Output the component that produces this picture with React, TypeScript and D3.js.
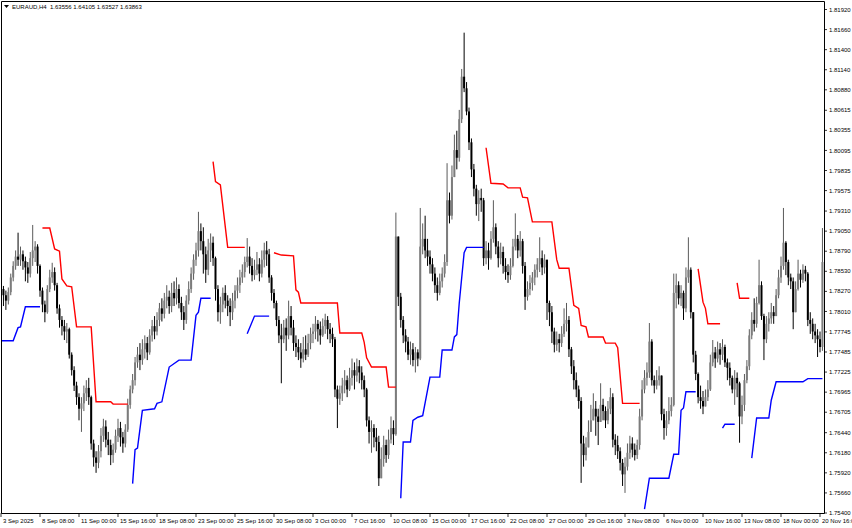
import React, { useEffect, useRef } from 'react';
import * as d3 from 'd3';

// header line of the chart window
const symbolInfo = 'EURAUD,H4  1.63556 1.64105 1.63527 1.63863';

// H4 candles, 3 Sep 16:00 .. 20 Nov 20:00 (open of a bar = previous close)
const firstOpen = 1.7835;

const closes = [
  1.7830, 1.7822, 1.7815, 1.7826, 1.7845, 1.7860, 1.7872, 1.7868, 1.7875, 1.7866,
  1.7858, 1.7850, 1.7870, 1.7880, 1.7885, 1.7860, 1.7828, 1.7810, 1.7800, 1.7830,
  1.7845, 1.7852, 1.7835, 1.7805, 1.7790, 1.7782, 1.7775, 1.7778, 1.7745, 1.7725,
  1.7705, 1.7690, 1.7675, 1.7682, 1.7695, 1.7702, 1.7690, 1.7630, 1.7612, 1.7605,
  1.7620, 1.7640, 1.7652, 1.7635, 1.7628, 1.7615, 1.7622, 1.7640, 1.7650, 1.7638,
  1.7630, 1.7648, 1.7680, 1.7700, 1.7712, 1.7735, 1.7745, 1.7738, 1.7752, 1.7760,
  1.7748, 1.7770, 1.7782, 1.7775, 1.7790, 1.7805, 1.7798, 1.7815, 1.7820, 1.7808,
  1.7825, 1.7818, 1.7830, 1.7812, 1.7800, 1.7790, 1.7815, 1.7830, 1.7850, 1.7868,
  1.7880, 1.7905, 1.7892, 1.7875, 1.7855, 1.7880, 1.7890, 1.7870, 1.7830, 1.7800,
  1.7810, 1.7825, 1.7815, 1.7808, 1.7800, 1.7815, 1.7828, 1.7835, 1.7845, 1.7852,
  1.7865, 1.7872, 1.7860, 1.7848, 1.7855, 1.7862, 1.7850, 1.7868, 1.7880, 1.7875,
  1.7845, 1.7825, 1.7812, 1.7790, 1.7770, 1.7765, 1.7780, 1.7770, 1.7795, 1.7780,
  1.7760, 1.7755, 1.7748, 1.7740, 1.7752, 1.7745, 1.7760, 1.7772, 1.7775, 1.7785,
  1.7778, 1.7770, 1.7782, 1.7790, 1.7778, 1.7772, 1.7765, 1.7700, 1.7688, 1.7695,
  1.7705, 1.7712, 1.7700, 1.7715, 1.7725, 1.7718, 1.7730, 1.7722, 1.7712, 1.7700,
  1.7660, 1.7645, 1.7650, 1.7638, 1.7632, 1.7585, 1.7610, 1.7628, 1.7615, 1.7635,
  1.7650, 1.7642, 1.7898, 1.7820, 1.7790, 1.7770, 1.7762, 1.7745, 1.7752, 1.7738,
  1.7748, 1.7740, 1.7885, 1.7895, 1.7880, 1.7872, 1.7862, 1.7850, 1.7835, 1.7825,
  1.7840, 1.7850, 1.7865, 1.7945, 1.7925, 1.7975, 1.8010, 1.8000, 1.8050, 1.8105,
  1.8090, 1.8060, 1.8020, 1.7985, 1.7960, 1.7940, 1.7948, 1.7945, 1.7870, 1.7880,
  1.7870, 1.7895, 1.7910, 1.7885, 1.7870, 1.7878, 1.7860, 1.7852, 1.7848, 1.7860,
  1.7885, 1.7895, 1.7880, 1.7892, 1.7860, 1.7820, 1.7830, 1.7838, 1.7845, 1.7855,
  1.7862, 1.7870, 1.7858, 1.7868, 1.7812, 1.7800, 1.7775, 1.7758, 1.7765, 1.7760,
  1.7772, 1.7785, 1.7790, 1.7752, 1.7730, 1.7712, 1.7700, 1.7685, 1.7630, 1.7615,
  1.7625, 1.7645, 1.7660, 1.7675, 1.7665, 1.7658, 1.7680, 1.7672, 1.7660, 1.7675,
  1.7690, 1.7635, 1.7628, 1.7620, 1.7605, 1.7590, 1.7600, 1.7618, 1.7630, 1.7622,
  1.7615, 1.7628, 1.7665, 1.7700, 1.7715, 1.7722, 1.7762, 1.7712, 1.7705, 1.7712,
  1.7718, 1.7668, 1.7650, 1.7660, 1.7672, 1.7680, 1.7825, 1.7835, 1.7818, 1.7825,
  1.7805, 1.7845, 1.7855, 1.7800, 1.7745, 1.7720, 1.7690, 1.7685, 1.7678, 1.7690,
  1.7700, 1.7735, 1.7748, 1.7740, 1.7752, 1.7745, 1.7755, 1.7735, 1.7728, 1.7715,
  1.7700, 1.7715, 1.7708, 1.7665, 1.7680, 1.7712, 1.7730, 1.7770, 1.7790, 1.7785,
  1.7812, 1.7835, 1.7795, 1.7765, 1.7785, 1.7792, 1.7800, 1.7795, 1.7822, 1.7845,
  1.7860, 1.7890, 1.7865, 1.7845, 1.7840, 1.7800, 1.7830, 1.7850, 1.7842, 1.7855,
  1.7850, 1.7790, 1.7785, 1.7775, 1.7770, 1.7765, 1.7755, 1.7865,
];

const highs = [
  1.7838, 1.7834, 1.7828, 1.7832, 1.7850, 1.7866, 1.7880, 1.7903, 1.7885, 1.7880,
  1.7872, 1.7865, 1.7878, 1.7913, 1.7892, 1.7888, 1.7862, 1.7832, 1.7815, 1.7835,
  1.7855, 1.7864, 1.7858, 1.7838, 1.7810, 1.7795, 1.7790, 1.7786, 1.7780, 1.7748,
  1.7730, 1.7710, 1.7695, 1.7690, 1.7705, 1.7712, 1.7715, 1.7692, 1.7635, 1.7620,
  1.7628, 1.7650, 1.7662, 1.7660, 1.7645, 1.7635, 1.7630, 1.7648, 1.7662, 1.7658,
  1.7645, 1.7655, 1.7688, 1.7705, 1.7720, 1.7742, 1.7755, 1.7760, 1.7765, 1.7770,
  1.7768, 1.7778, 1.7790, 1.7795, 1.7800, 1.7812, 1.7818, 1.7825, 1.7835, 1.7828,
  1.7838, 1.7840, 1.7845, 1.7836, 1.7820, 1.7808, 1.7822, 1.7840, 1.7858, 1.7875,
  1.7890, 1.7930, 1.7915, 1.7910, 1.7885, 1.7895, 1.7902, 1.7898, 1.7872, 1.7835,
  1.7820, 1.7832, 1.7835, 1.7822, 1.7818, 1.7825, 1.7835, 1.7845, 1.7855, 1.7862,
  1.7872, 1.7896, 1.7885, 1.7870, 1.7868, 1.7878, 1.7870, 1.7880, 1.7890, 1.7892,
  1.7882, 1.7848, 1.7830, 1.7815, 1.7795, 1.7785, 1.7790, 1.7792, 1.7815, 1.7808,
  1.7790, 1.7770, 1.7765, 1.7760, 1.7768, 1.7770, 1.7772, 1.7780, 1.7785, 1.7795,
  1.7790, 1.7788, 1.7792, 1.7798, 1.7795, 1.7786, 1.7780, 1.7768, 1.7705, 1.7705,
  1.7715, 1.7725, 1.7718, 1.7728, 1.7740, 1.7735, 1.7740, 1.7738, 1.7730, 1.7718,
  1.7702, 1.7665, 1.7660, 1.7655, 1.7650, 1.7640, 1.7625, 1.7640, 1.7635, 1.7648,
  1.7665, 1.7660, 1.7929, 1.7860, 1.7825, 1.7795, 1.7778, 1.7768, 1.7762, 1.7760,
  1.7755, 1.7752, 1.7935, 1.7915, 1.7925, 1.7895, 1.7880, 1.7870, 1.7858, 1.7845,
  1.7850, 1.7858, 1.7875, 1.7993, 1.7955, 1.7990, 1.8030, 1.8035, 1.8062, 1.8115,
  1.8162, 1.8098, 1.8065, 1.8025, 1.7992, 1.7965, 1.7958, 1.7960, 1.7948, 1.7892,
  1.7890, 1.7905, 1.7945, 1.7915, 1.7892, 1.7890, 1.7885, 1.7870, 1.7862, 1.7870,
  1.7895, 1.7928, 1.7900, 1.7905, 1.7895, 1.7865, 1.7840, 1.7848, 1.7852, 1.7862,
  1.7870, 1.7897, 1.7880, 1.7875, 1.7822, 1.7815, 1.7808, 1.7780, 1.7775, 1.7772,
  1.7782, 1.7805, 1.7812, 1.7795, 1.7755, 1.7738, 1.7722, 1.7705, 1.7690, 1.7640,
  1.7638, 1.7660, 1.7680, 1.7695, 1.7685, 1.7675, 1.7708, 1.7688, 1.7678, 1.7685,
  1.7702, 1.7695, 1.7642, 1.7640, 1.7625, 1.7610, 1.7612, 1.7630, 1.7640, 1.7638,
  1.7630, 1.7635, 1.7675, 1.7712, 1.7725, 1.7735, 1.7786, 1.7765, 1.7718, 1.7725,
  1.7730, 1.7718, 1.7675, 1.7672, 1.7690, 1.7690, 1.7850, 1.7850, 1.7840, 1.7835,
  1.7828, 1.7858, 1.7897, 1.7858, 1.7790, 1.7750, 1.7722, 1.7705, 1.7698, 1.7700,
  1.7712, 1.7745, 1.7764, 1.7755, 1.7762, 1.7760, 1.7765, 1.7758, 1.7740, 1.7735,
  1.7718, 1.7725, 1.7722, 1.7710, 1.7692, 1.7720, 1.7738, 1.7778, 1.7800, 1.7818,
  1.7820, 1.7868, 1.7840, 1.7798, 1.7795, 1.7800, 1.7812, 1.7808, 1.7830, 1.7855,
  1.7872, 1.7935, 1.7892, 1.7868, 1.7850, 1.7845, 1.7840, 1.7868, 1.7855, 1.7862,
  1.7860, 1.7852, 1.7800, 1.7792, 1.7785, 1.7778, 1.7775, 1.7909,
];

const lows = [
  1.7812, 1.7808, 1.7803, 1.7810, 1.7822, 1.7840, 1.7855, 1.7860, 1.7860, 1.7855,
  1.7840, 1.7838, 1.7845, 1.7860, 1.7865, 1.7850, 1.7820, 1.7800, 1.7787, 1.7798,
  1.7826, 1.7838, 1.7828, 1.7798, 1.7780, 1.7770, 1.7764, 1.7760, 1.7740, 1.7718,
  1.7698, 1.7680, 1.7660, 1.7645, 1.7672, 1.7685, 1.7680, 1.7622, 1.7600, 1.7592,
  1.7598, 1.7612, 1.7632, 1.7625, 1.7615, 1.7602, 1.7605, 1.7618, 1.7632, 1.7626,
  1.7618, 1.7625, 1.7645, 1.7675, 1.7695, 1.7705, 1.7728, 1.7725, 1.7732, 1.7740,
  1.7738, 1.7745, 1.7762, 1.7765, 1.7770, 1.7782, 1.7788, 1.7792, 1.7805, 1.7798,
  1.7800, 1.7808, 1.7810, 1.7805, 1.7790, 1.7777, 1.7785, 1.7810, 1.7825, 1.7842,
  1.7860, 1.7872, 1.7880, 1.7850, 1.7838, 1.7848, 1.7865, 1.7860, 1.7815, 1.7788,
  1.7785, 1.7800, 1.7805, 1.7795, 1.7782, 1.7790, 1.7805, 1.7818, 1.7825, 1.7838,
  1.7845, 1.7858, 1.7850, 1.7840, 1.7842, 1.7848, 1.7840, 1.7845, 1.7858, 1.7860,
  1.7838, 1.7815, 1.7805, 1.7782, 1.7760, 1.7708, 1.7760, 1.7750, 1.7765, 1.7770,
  1.7750, 1.7742, 1.7738, 1.7728, 1.7735, 1.7738, 1.7742, 1.7752, 1.7760, 1.7765,
  1.7762, 1.7758, 1.7768, 1.7772, 1.7765, 1.7760, 1.7755, 1.7690, 1.7650, 1.7680,
  1.7685, 1.7695, 1.7690, 1.7698, 1.7705, 1.7700, 1.7710, 1.7708, 1.7700, 1.7690,
  1.7652, 1.7630, 1.7618, 1.7625, 1.7620, 1.7575, 1.7585, 1.7600, 1.7605, 1.7610,
  1.7630, 1.7628, 1.7640, 1.7808, 1.7780, 1.7760, 1.7748, 1.7738, 1.7732, 1.7730,
  1.7722, 1.7730, 1.7738, 1.7875, 1.7870, 1.7860, 1.7850, 1.7840, 1.7825, 1.7815,
  1.7822, 1.7832, 1.7845, 1.7860, 1.7915, 1.7920, 1.7975, 1.7985, 1.7995, 1.8045,
  1.8085, 1.8055, 1.8010, 1.7975, 1.7950, 1.7925, 1.7918, 1.7930, 1.7860, 1.7862,
  1.7855, 1.7868, 1.7890, 1.7875, 1.7858, 1.7862, 1.7850, 1.7842, 1.7838, 1.7842,
  1.7858, 1.7880, 1.7870, 1.7872, 1.7850, 1.7803, 1.7815, 1.7822, 1.7828, 1.7835,
  1.7845, 1.7852, 1.7848, 1.7850, 1.7790, 1.7782, 1.7760, 1.7748, 1.7750, 1.7748,
  1.7755, 1.7768, 1.7775, 1.7742, 1.7720, 1.7700, 1.7690, 1.7675, 1.7579, 1.7600,
  1.7608, 1.7630, 1.7645, 1.7660, 1.7640, 1.7628, 1.7670, 1.7660, 1.7650, 1.7655,
  1.7668, 1.7625, 1.7615, 1.7610, 1.7595, 1.7575, 1.7566, 1.7595, 1.7610, 1.7612,
  1.7608, 1.7610, 1.7622, 1.7660, 1.7695, 1.7705, 1.7715, 1.7705, 1.7695, 1.7700,
  1.7705, 1.7660, 1.7635, 1.7640, 1.7655, 1.7665, 1.7678, 1.7805, 1.7810, 1.7808,
  1.7790, 1.7800, 1.7838, 1.7792, 1.7735, 1.7712, 1.7682, 1.7675, 1.7668, 1.7678,
  1.7685, 1.7698, 1.7730, 1.7728, 1.7735, 1.7732, 1.7738, 1.7729, 1.7712, 1.7705,
  1.7695, 1.7680, 1.7690, 1.7631, 1.7655, 1.7672, 1.7708, 1.7725, 1.7765, 1.7775,
  1.7780, 1.7810, 1.7790, 1.7738, 1.7760, 1.7775, 1.7785, 1.7785, 1.7795, 1.7818,
  1.7838, 1.7855, 1.7848, 1.7835, 1.7830, 1.7778, 1.7800, 1.7828, 1.7832, 1.7838,
  1.7840, 1.7782, 1.7772, 1.7765, 1.7760, 1.7742, 1.7748, 1.7750,
];

// bottom axis: one label every 16 bars
const timeLabels = [
  '3 Sep 2025', '8 Sep 08:00', '11 Sep 00:00', '15 Sep 16:00', '18 Sep 08:00',
  '23 Sep 00:00', '25 Sep 16:00', '30 Sep 08:00', '3 Oct 00:00', '7 Oct 16:00',
  '10 Oct 08:00', '15 Oct 00:00', '17 Oct 16:00', '22 Oct 08:00', '27 Oct 00:00',
  '29 Oct 16:00', '3 Nov 08:00', '6 Nov 00:00', '10 Nov 16:00', '13 Nov 08:00',
  '18 Nov 00:00', '20 Nov 16:00',
];
const barsPerTimeLabel = 16;

const priceLabels = [
  '1.81920', '1.81660', '1.81400', '1.81140', '1.80880', '1.80615', '1.80355',
  '1.80095', '1.79835', '1.79575', '1.79310', '1.79050', '1.78790', '1.78530',
  '1.78270', '1.78010', '1.77745', '1.77485', '1.77225', '1.76965', '1.76705',
  '1.76440', '1.76180', '1.75920', '1.75660', '1.75400',
];

// stop lines, vertices as [bar index, price]
const redStops: [number, number][][] = [
  [[17, 1.7909], [20, 1.7909], [22, 1.7882], [24, 1.7879], [25, 1.7843], [27, 1.7834],
   [29, 1.7833], [31, 1.7781], [37, 1.7781], [39, 1.7684], [45, 1.7684], [46, 1.7681], [52, 1.7681]],
  [[87, 1.7995], [88, 1.7969], [90, 1.7965], [93, 1.7884], [100, 1.7884]],
  [[112, 1.7877], [115, 1.7874], [120, 1.7873], [121, 1.7829], [122, 1.7826], [123, 1.7812],
   [138, 1.7812], [139, 1.7773], [148, 1.7773], [149, 1.7761], [150, 1.7741], [152, 1.7729],
   [158, 1.7729], [159, 1.7703], [162, 1.7703]],
  [[199, 1.8013], [201, 1.7967], [206, 1.7966], [208, 1.7961], [213, 1.7961], [214, 1.7949],
   [216, 1.7948], [218, 1.7917], [226, 1.7917], [228, 1.7868], [229, 1.7857], [233, 1.7857],
   [235, 1.7809], [237, 1.7805], [238, 1.7783], [240, 1.7781], [241, 1.7768], [247, 1.7768],
   [248, 1.7760], [252, 1.7760], [253, 1.7754], [255, 1.7682], [262, 1.7682]],
  [[286, 1.7856], [288, 1.7813], [289, 1.7805], [290, 1.7785], [295, 1.7785]],
  [[302, 1.7838], [303, 1.7818], [307, 1.7818]],
];

const blueStops: [number, number][][] = [
  [[0, 1.7763], [5, 1.7763], [7, 1.7780], [8, 1.7781], [10, 1.7807], [16, 1.7807]],
  [[54, 1.7578], [55, 1.7622], [56, 1.7624], [58, 1.7673], [63, 1.7675], [64, 1.7682],
   [66, 1.7684], [69, 1.7729], [73, 1.7738], [78, 1.7738], [80, 1.7796], [81, 1.7800],
   [82, 1.7818], [86, 1.7818]],
  [[101, 1.7772], [104, 1.7795], [110, 1.7795]],
  [[164, 1.7559], [165, 1.7632], [168, 1.7632], [169, 1.7660], [171, 1.7664], [173, 1.7666],
   [176, 1.7716], [180, 1.7716], [181, 1.7751], [185, 1.7751], [186, 1.7768], [187, 1.7771],
   [188, 1.7812], [190, 1.7877], [191, 1.7884], [198, 1.7884]],
  [[264, 1.7545], [266, 1.7585], [274, 1.7585], [276, 1.7616], [278, 1.7616], [279, 1.7673],
   [280, 1.7676], [281, 1.7697], [285, 1.7697]],
  [[296, 1.7650], [297, 1.7655], [301, 1.7655]],
  [[308, 1.7611], [310, 1.7663], [315, 1.7663], [316, 1.7686], [318, 1.7710], [329, 1.7710],
   [331, 1.7714], [337, 1.7714]],
];

interface Candle {
  i: number;
  o: number;
  h: number;
  l: number;
  c: number;
}

const W = 852;
const H = 528;
const axisX = 824; // price scale line
const axisY = 513; // time scale line
const font = '"Liberation Sans", Arial, sans-serif';

const App: React.FC = () => {
  const chartRef = useRef<SVGSVGElement>(null);

  useEffect(() => {
    const svg = d3.select(chartRef.current);
    svg.selectAll('*').remove();

    const candles: Candle[] = closes.map((c, i) => ({
      i,
      o: i === 0 ? firstOpen : closes[i - 1],
      h: highs[i],
      l: lows[i],
      c,
    }));

    const lastLabelBar = (timeLabels.length - 1) * barsPerTimeLabel;
    const x = d3.scaleLinear().domain([0, lastLabelBar]).range([1, 820]);
    const y = d3.scaleLinear().domain([1.754, 1.8192]).range([axisY, 9.5]);

    svg.append('rect').attr('width', W).attr('height', H).attr('fill', '#fff');

    svg
      .append('defs')
      .append('clipPath')
      .attr('id', 'plot')
      .append('rect')
      .attr('x', 1)
      .attr('y', 1)
      .attr('width', axisX - 1)
      .attr('height', axisY - 1);

    const plot = svg.append('g').attr('clip-path', 'url(#plot)');

    // candles: grey = up, black = down
    const bw = 2;
    const g = plot.selectAll('g.candle').data(candles).join('g').attr('class', 'candle');
    g.append('line')
      .attr('x1', (d) => x(d.i))
      .attr('x2', (d) => x(d.i))
      .attr('y1', (d) => y(Math.max(d.h, d.o, d.c)))
      .attr('y2', (d) => y(Math.min(d.l, d.o, d.c)))
      .attr('stroke', (d) => (d.c >= d.o ? '#5a5a5a' : '#000'))
      .attr('stroke-width', 1);
    g.append('rect')
      .attr('x', (d) => x(d.i) - bw / 2)
      .attr('width', bw)
      .attr('y', (d) => y(Math.max(d.o, d.c)))
      .attr('height', (d) => Math.max(0.8, Math.abs(y(d.o) - y(d.c))))
      .attr('fill', (d) => (d.c >= d.o ? '#7c7c7c' : '#000'));

    // stop lines
    const line = d3
      .line<[number, number]>()
      .x((d) => x(d[0]))
      .y((d) => y(d[1]));

    plot
      .selectAll('path.red')
      .data(redStops)
      .join('path')
      .attr('class', 'red')
      .attr('d', line)
      .attr('fill', 'none')
      .attr('stroke', '#ff0000')
      .attr('stroke-width', 1.4);

    plot
      .selectAll('path.blue')
      .data(blueStops)
      .join('path')
      .attr('class', 'blue')
      .attr('d', line)
      .attr('fill', 'none')
      .attr('stroke', '#0000ff')
      .attr('stroke-width', 1.4);

    // frame
    svg
      .append('path')
      .attr('d', `M1.5,${axisY + 0.5}V1.5H${axisX + 0.5}V${axisY + 0.5}H1.5`)
      .attr('fill', 'none')
      .attr('stroke', '#000')
      .attr('stroke-width', 1);

    // price scale
    const py = svg.append('g').attr('font-family', font).attr('font-size', 6).attr('fill', '#000');
    priceLabels.forEach((lab) => {
      const yy = y(parseFloat(lab));
      py.append('line')
        .attr('x1', axisX)
        .attr('x2', axisX + 3)
        .attr('y1', yy)
        .attr('y2', yy)
        .attr('stroke', '#000')
        .attr('stroke-width', 0.8);
      py.append('text').attr('x', axisX + 5).attr('y', yy + 2.1).text(lab);
    });

    // time scale (last label runs off the window edge, as in the original)
    const tx = svg.append('g').attr('font-family', font).attr('font-size', 6).attr('fill', '#000');
    timeLabels.forEach((lab, k) => {
      const xx = x(k * barsPerTimeLabel);
      tx.append('line')
        .attr('x1', xx)
        .attr('x2', xx)
        .attr('y1', axisY)
        .attr('y2', axisY + 4)
        .attr('stroke', '#000')
        .attr('stroke-width', 0.8);
      tx.append('text').attr('x', xx + 2).attr('y', axisY + 9.5).text(lab);
    });

    // header
    svg.append('path').attr('d', 'M4,5H9L6.5,8Z').attr('fill', '#000');
    svg
      .append('text')
      .attr('x', 12)
      .attr('y', 8.5)
      .attr('font-family', font)
      .attr('font-size', 6)
      .attr('fill', '#000')
      .attr('xml:space', 'preserve')
      .style('white-space', 'pre')
      .text(symbolInfo);
  }, []);

  return (
    <svg
      ref={chartRef}
      width={W}
      height={H}
      style={{ position: 'absolute', left: 0, top: 0, display: 'block' }}
    />
  );
};

export default App;
